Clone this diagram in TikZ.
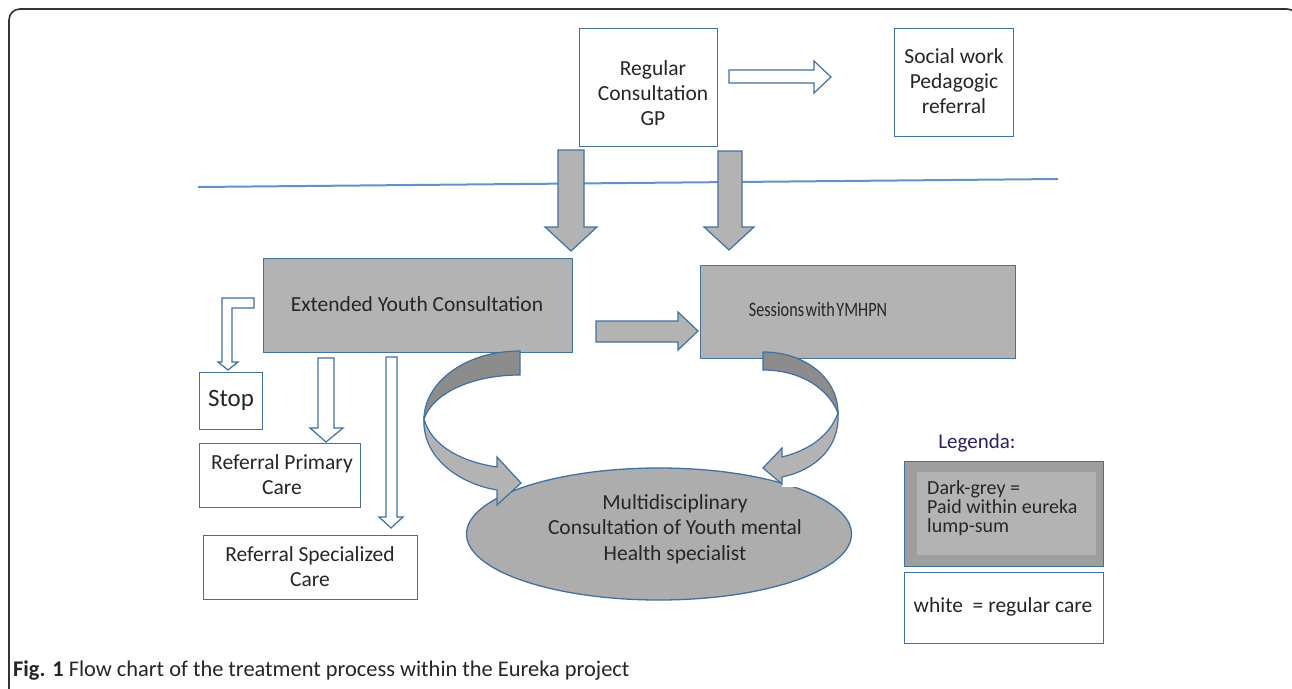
\documentclass[tikz,border=0pt]{standalone}
\usepackage{fontspec}
\setmainfont{Carlito}
\usetikzlibrary{shapes.geometric}
\definecolor{bord}{RGB}{65,113,160}
\definecolor{gfill}{RGB}{179,179,179}
\definecolor{gdark}{RGB}{140,140,140}
\definecolor{efill}{RGB}{173,173,173}
\definecolor{lgfill}{RGB}{158,158,158}
\definecolor{lnblue}{RGB}{100,145,205}
\definecolor{txt}{RGB}{38,38,38}
\definecolor{legc}{RGB}{45,35,95}
\begin{document}
\begin{tikzpicture}[x=1pt,y=-1pt,
  box/.style={draw=bord, line width=1.3pt, rectangle, inner sep=0pt, anchor=north west},
  wbox/.style={box, fill=white},
  gbox/.style={box, fill=gfill},
  lbl/.style={text=txt, align=center, font=\fontsize{21.5}{25}\selectfont, inner sep=0pt},
  blk/.style={draw=bord, line width=1.2pt, line join=miter},
  hollow/.style={blk, fill=white},
  solid/.style={blk, fill=gfill},
]
\useasboundingbox (0,0) rectangle (1292,688);
\clip (0,0) rectangle (1292,688);
\fill[white] (0,0) rectangle (1292,688);
\draw[line width=1.6pt, black!80, rounded corners=11pt] (9,700) -- (9,9) -- (1298,9) -- (1298,700);

% separator line
\coordinate (la) at (198,187);
\coordinate (lb) at (1058,179);
\draw[lnblue, line width=2pt] (la) -- (lb);

% boxes
\node[wbox, minimum width=138pt, minimum height=118pt] (gp) at (579,28) {};
\node[lbl] (gpT) at (653,93) {Regular\\Consultation\\GP};
\node[wbox, minimum width=119pt, minimum height=108pt] (sw) at (894,28) {};
\node[lbl] (swT) at (954,81) {Social work\\Pedagogic\\referral};

\node[gbox, minimum width=309pt, minimum height=94pt] (ext) at (263,258) {};
\node[lbl] (extT) at (417,304) {Extended Youth Consultation};
\node[gbox, minimum width=315pt, minimum height=93pt] (ses) at (700,265) {};
\node[lbl, font=\fontsize{20.5}{25}\selectfont] (sesT) at (818,309) {\scalebox{0.79}[1]{Sessions\hspace{2pt}with\hspace{2pt}YMHPN}};

\node[wbox, minimum width=63pt, minimum height=57pt] (stop) at (199,372) {};
\node[lbl, font=\fontsize{25}{30}\selectfont] (stopT) at (231,400) {Stop};
\node[wbox, minimum width=161pt, minimum height=64pt] (prim) at (199,443) {};
\node[lbl] (primT) at (282,475) {Referral Primary\\Care};
\node[wbox, minimum width=214pt, minimum height=64pt] (spec) at (203,535) {};
\node[lbl] (specT) at (310,567) {Referral Specialized\\Care};

% ellipse
\node[ellipse, draw=bord, line width=1.3pt, fill=efill, minimum width=385pt, minimum height=132pt, inner sep=0pt] (mdc) at (659,534) {};
\fill[white] (782,474) rectangle (809,487);
\node[lbl, font=\fontsize{21.5}{25.5}\selectfont] (mdcT) at (675,529) {Multidisciplinary\\Consultation of Youth mental\\Health specialist};

% grey down arrows from GP
\draw[solid] (558,150) -- (584,150) -- (584,227) -- (597,227) -- (571,251) -- (545,227) -- (558,227) -- cycle;
\draw[solid] (718,151) -- (742,151) -- (742,227) -- (754,227) -- (729,250) -- (704,227) -- (718,227) -- cycle;

% hollow arrow GP -> social work
\draw[hollow] (729,70) -- (814,70) -- (814,61) -- (831,77) -- (814,93) -- (814,83) -- (729,83) -- cycle;

% grey arrow ext -> sessions
\draw[solid] (596,321) -- (678,321) -- (678,312) -- (698,331) -- (678,350) -- (678,342) -- (596,342) -- cycle;

% hollow arrows from ext
\draw[hollow] (254,298) -- (222,298) -- (222,362) -- (218,362) -- (228,370) -- (238,362) -- (232,362) -- (232,308) -- (254,308) -- cycle;
\draw[hollow] (318,358) -- (334,358) -- (334,428) -- (343,428) -- (326,442) -- (310,428) -- (318,428) -- cycle;
\draw[hollow] (386,357) -- (397,357) -- (397,517) -- (403,517) -- (391,528) -- (379,517) -- (386,517) -- cycle;

% curved arrow left
\draw[blk, fill=gdark] (520,351) -- (520,375) .. controls (472,375) and (433,393) .. (424,419) .. controls (424,385) and (462,351) .. (520,351) -- cycle;
\draw[blk, fill=gfill] (424,419) .. controls (422,458) and (460,484) .. (497,490) -- (497,505) -- (521,483) -- (497,457) -- (497,467) .. controls (463,462) and (432,447) .. (424,419) -- cycle;

% curved arrow right
\draw[blk, fill=gdark] (763,352) -- (763,370) .. controls (800,370) and (828,388) .. (838,413) .. controls (838,378) and (805,352) .. (763,352) -- cycle;
\draw[blk, fill=gfill] (838,413) .. controls (840,448) and (815,470) .. (782,477) -- (782,484) -- (763,468) -- (782,448) -- (782,457) .. controls (810,450) and (830,435) .. (838,413) -- cycle;

% legend
\node[text=legc, font=\fontsize{21}{24}\selectfont, inner sep=0pt] (legT) at (977,443) {Legenda:};
\node[box, fill=lgfill, minimum width=199pt, minimum height=105pt] (legD) at (904,461) {};
\fill[gfill] (917,472) rectangle (1096,555);
\node[lbl, align=left, anchor=west, font=\fontsize{20}{19}\selectfont] (legDT) at (927,508) {Dark-grey =\\Paid within eureka\\lump-sum};
\node[wbox, minimum width=199pt, minimum height=71pt] (legW) at (904,572) {};
\node[lbl, font=\fontsize{21.5}{23}\selectfont] (legWT) at (1003,607) {white\ \ = regular care};

% caption
\node[anchor=base west, inner sep=0pt, text=txt, font=\fontsize{22.4}{26}\selectfont] (cap) at (13,676) {\textbf{Fig. 1} Flow chart of the treatment process within the Eureka project};
\end{tikzpicture}
\end{document}
